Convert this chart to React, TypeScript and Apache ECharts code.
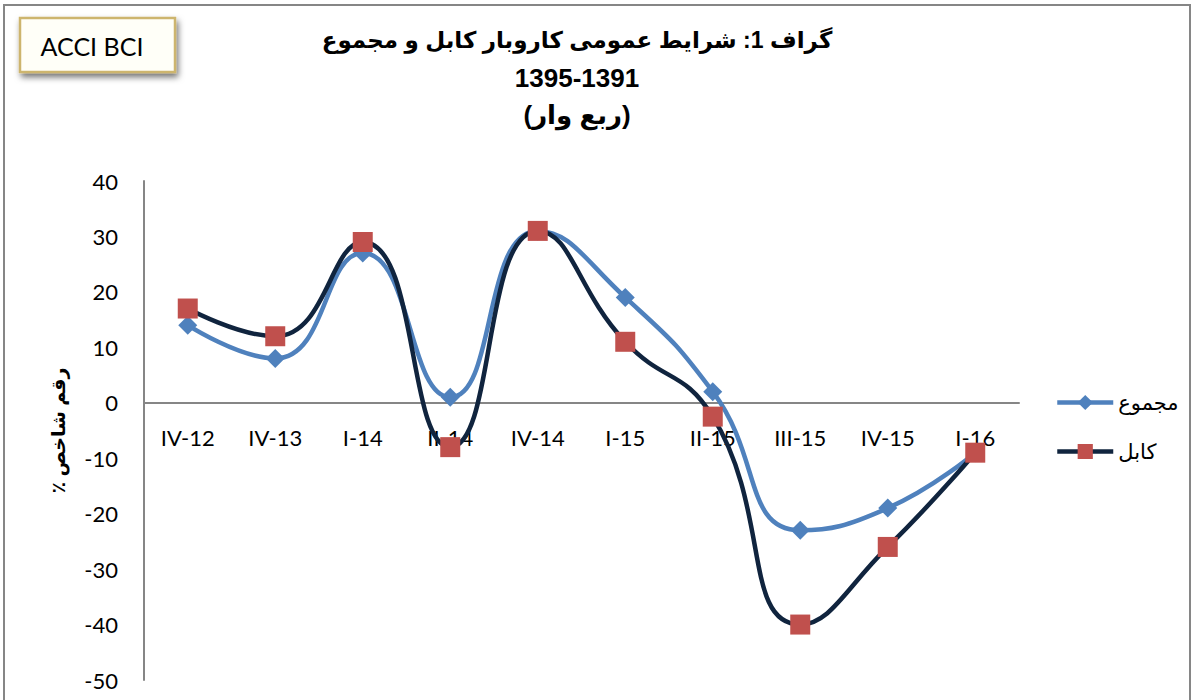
import React, { useEffect, useRef } from "react";
import * as echarts from "echarts";

const categories = ["IV-12", "IV-13", "I-14", "II-14", "IV-14", "I-15", "II-15", "III-15", "IV-15", "I-16"];
const majmooValues = [14, 8, 27, 1, 31, 19, 2, -23, -19, -9];
const kabulValues = [17, 12, 29, -8, 31, 11, -2.5, -40, -26, -9];
const seriesNames = ["مجموع", "کابل"];
const titleLine1 = "گراف 1: شرایط عمومی کاروبار کابل و مجموع";
const titleLine2 = "1395-1391";
const titleLine3 = "(ربع وار)";
const yAxisName = "٪ رقم شاخص";
const badgeText = "ACCI BCI";
const yMin = -50;
const yMax = 40;
const yStep = 10;

const GRID_TOP = 181;
const GRID_BOTTOM = 20;
const CHART_H = 700;

const App: React.FC = () => {
  const ref = useRef<HTMLDivElement>(null);
  useEffect(() => {
    if (!ref.current) return;
    const chart = echarts.init(ref.current, undefined, { renderer: "svg" });
    const arabicFont = "Liberation Sans, DejaVu Sans, Noto Sans, sans-serif";
    const latin = "Lato, Open Sans, sans-serif";
    const plotH = CHART_H - GRID_TOP - GRID_BOTTOM;
    const zeroFromBottom = plotH * (0 - yMin) / (yMax - yMin);
    chart.setOption({
      animation: false,
      backgroundColor: "#ffffff",
      title: [
        {
          text: titleLine1,
          left: 572,
          top: 23,
          textAlign: "center",
          textStyle: { fontFamily: arabicFont, fontWeight: "bold", fontSize: 23, color: "#000000" },
        },
        {
          text: titleLine2 + "\n" + titleLine3,
          left: 572,
          top: 54,
          textAlign: "center",
          textStyle: { fontFamily: arabicFont, fontWeight: "bold", fontSize: 26, lineHeight: 37, color: "#000000" },
        },
      ],
      legend: {
        orient: "vertical",
        left: 1050,
        top: 387,
        itemWidth: 56,
        itemHeight: 19,
        itemGap: 28,
        data: seriesNames,
        lineStyle: { width: 4.5 },
        textStyle: { fontFamily: arabicFont, fontSize: 21, color: "#000000" },
      },
      grid: {
        left: 144,
        right: 174,
        top: GRID_TOP,
        bottom: GRID_BOTTOM,
        containLabel: false,
        outerBoundsMode: "none",
      },
      xAxis: {
        type: "category",
        data: categories,
        boundaryGap: true,
        offset: -zeroFromBottom,
        axisLine: { onZero: false, lineStyle: { color: "#868686", width: 2 } },
        axisTick: { show: false },
        axisLabel: { margin: 24, fontFamily: latin, fontSize: 22, color: "#000000" },
        splitLine: { show: false },
      },
      yAxis: {
        type: "value",
        min: yMin,
        max: yMax,
        interval: yStep,
        name: yAxisName,
        nameLocation: "middle",
        nameRotate: 90,
        nameGap: 76,
        nameTextStyle: { fontFamily: arabicFont, fontSize: 19, fontWeight: "bold", color: "#000000" },
        axisLine: { show: true, lineStyle: { color: "#868686", width: 2 } },
        axisTick: { show: false },
        splitLine: { show: false },
        axisLabel: { margin: 26, fontFamily: latin, fontSize: 22, color: "#000000" },
      },
      series: [
        {
          name: seriesNames[0],
          type: "line",
          data: majmooValues,
          smooth: 0.5,
          symbol: "diamond",
          symbolSize: 19,
          lineStyle: { color: "#4F81BD", width: 4.5 },
          itemStyle: { color: "#4F81BD" },
          z: 2,
        },
        {
          name: seriesNames[1],
          type: "line",
          data: kabulValues,
          smooth: 0.5,
          symbol: "rect",
          symbolSize: 20,
          lineStyle: { color: "#10243E", width: 4.5 },
          itemStyle: { color: "#C0504D" },
          z: 3,
        },
      ],
      graphic: [
        {
          type: "rect",
          shape: { x: 4, y: 5, width: 1186, height: 720 },
          style: { fill: "none", stroke: "#868686", lineWidth: 2 },
          silent: true,
          z: -10,
        },
        {
          type: "rect",
          shape: { x: 20, y: 18, width: 155, height: 54 },
          style: {
            fill: "#FFFFF8",
            stroke: "#CDB56E",
            lineWidth: 2.5,
            shadowBlur: 6,
            shadowOffsetX: 2,
            shadowOffsetY: 4,
            shadowColor: "rgba(0,0,0,0.55)",
          },
          z: 10,
        },
        {
          type: "text",
          x: 92,
          y: 46,
          style: {
            text: badgeText,
            fontFamily: latin,
            fontSize: 25,
            fill: "#000000",
            textAlign: "center",
            textVerticalAlign: "middle",
          },
          z: 11,
        },
      ],
    });
    return () => chart.dispose();
  }, []);
  return (
    <div
      ref={ref}
      style={{ position: "absolute", left: 0, top: 0, width: 1193, height: 700 }}
    />
  );
};

export default App;
